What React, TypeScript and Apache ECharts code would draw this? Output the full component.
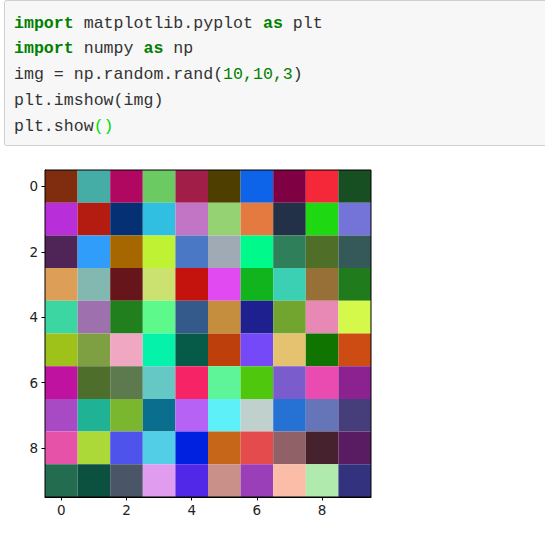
import React, { useEffect, useRef } from "react";
import * as echarts from "echarts";

// Rows of the 10x10x3 random image (row 0 at top), as hex colours
const row0 = ["#7f2d0e", "#45ada6", "#b00860", "#6cca62", "#a01e48", "#4e3e00", "#0e64e8", "#7f0043", "#f42838", "#174f22"];
const row1 = ["#b82ed8", "#b41c12", "#063074", "#30bfe0", "#c275c4", "#95d274", "#e47a40", "#223048", "#1ed812", "#7474d8"];
const row2 = ["#4f2558", "#319dfa", "#a66700", "#bff232", "#4b78c4", "#a0aab4", "#00f98b", "#2e7f5a", "#4f6f28", "#355858"];
const row3 = ["#dd9f58", "#83b8b0", "#66161a", "#cbe270", "#c4120c", "#e14af0", "#12b41e", "#3bcfb4", "#977038", "#1f7b1c"];
const row4 = ["#3bd6a2", "#9e70ad", "#227f1e", "#5ef98b", "#345a8c", "#c48e3e", "#1e2090", "#72a430", "#e888b4", "#d4f94a"];
const row5 = ["#9fc21a", "#7ea042", "#f0a8c2", "#04f2aa", "#055a48", "#bd400c", "#7548f8", "#e4c270", "#107400", "#cc4c14"];
const row6 = ["#bf12a0", "#4e6e2c", "#5d7a4e", "#66c8c4", "#f62466", "#5ef598", "#4ec70c", "#7b5ccc", "#ea4bb0", "#8c2190"];
const row7 = ["#a74ac4", "#20b295", "#7bb72e", "#0a6e8e", "#b562f5", "#5ef0f8", "#c0d0cc", "#2672d4", "#6674b8", "#463e7a"];
const row8 = ["#e552a8", "#acd838", "#4e53ec", "#52cfe6", "#0022e0", "#c56619", "#e44b4d", "#906268", "#46212e", "#591c62"];
const row9 = ["#246c50", "#0c5040", "#4a5668", "#e09df0", "#5228e8", "#c89088", "#9a3fb8", "#fbbca8", "#b0eaac", "#32327e"];
const rows = [row0, row1, row2, row3, row4, row5, row6, row7, row8, row9];

const xCategories = ["0", "1", "2", "3", "4", "5", "6", "7", "8", "9"];
const yCategories = ["0", "1", "2", "3", "4", "5", "6", "7", "8", "9"];

const codeLines = [
  "{kw|import} matplotlib.pyplot {kw|as} plt",
  "{kw|import} numpy {kw|as} np",
  "img = np.random.rand({num|10,10,3})",
  "plt.imshow(img)",
  "plt.show{br|()}",
];

export default function App() {
  const ref = useRef<HTMLDivElement>(null);
  useEffect(() => {
    if (!ref.current) return;
    const chart = echarts.init(ref.current, undefined, { renderer: "svg" });
    const data: any[] = [];
    rows.forEach((row, y) => {
      row.forEach((c, x) => {
        data.push({ value: [x, y], color: c });
      });
    });
    const mono = "'Liberation Mono', 'DejaVu Sans Mono', monospace";
    const graphics: any[] = [
      {
        type: "rect",
        shape: { x: 4.5, y: 0.5, width: 560, height: 145, r: 2 },
        style: { fill: "#f7f7f7", stroke: "#cfcfcf", lineWidth: 1 },
        z: 0,
      },
    ];
    codeLines.forEach((line, i) => {
      graphics.push({
        type: "text",
        x: 14,
        y: 23 + i * 25.8,
        z: 1,
        style: {
          text: line,
          font: `16.6px ${mono}`,
          fontFamily: mono,
          fontSize: 16.6,
          fill: "#333333",
          verticalAlign: "middle",
          rich: {
            kw: { fontFamily: mono, fontSize: 16.6, fontWeight: "bold", fill: "#008000", color: "#008000" },
            num: { fontFamily: mono, fontSize: 16.6, fill: "#008000", color: "#008000" },
            br: { fontFamily: mono, fontSize: 16.6, fill: "#00dd00", color: "#00dd00" },
          },
        },
      });
    });
    chart.setOption({
      animation: false,
      backgroundColor: "#ffffff",
      graphic: graphics,
      grid: {
        left: 45,
        top: 170,
        width: 326,
        height: 327,
        show: true,
        borderColor: "#000000",
        borderWidth: 1,
        backgroundColor: "transparent",
        z: 10,
      },
      xAxis: {
        type: "category",
        data: xCategories,
        boundaryGap: true,
        axisLine: { show: true, lineStyle: { color: "#000", width: 1 } },
        axisTick: { show: true, alignWithLabel: true, interval: 1, length: 3.5, lineStyle: { color: "#000" } },
        axisLabel: { interval: 1, margin: 6, color: "#222", fontFamily: "DejaVu Sans", fontSize: 13.5 },
        splitLine: { show: false },
      },
      yAxis: {
        type: "category",
        data: yCategories,
        inverse: true,
        boundaryGap: true,
        axisLine: { show: true, lineStyle: { color: "#000", width: 1 } },
        axisTick: { show: true, alignWithLabel: true, interval: 1, length: 3.5, lineStyle: { color: "#000" } },
        axisLabel: { interval: 1, margin: 7, color: "#222", fontFamily: "DejaVu Sans", fontSize: 13.5 },
        splitLine: { show: false },
      },
      series: [
        {
          type: "custom",
          data: data,
          encode: { x: 0, y: 1 },
          renderItem: (params: any, api: any) => {
            const x = api.value(0);
            const y = api.value(1);
            const c = api.coord([x, y]);
            const s = api.size([1, 1]);
            const item = data[params.dataIndex];
            return {
              type: "rect",
              shape: { x: c[0] - s[0] / 2, y: c[1] - s[1] / 2, width: s[0], height: s[1] },
              style: { fill: item.color, stroke: null },
            };
          },
        },
      ],
    });
    return () => chart.dispose();
  }, []);
  return (
    <div
      ref={ref}
      style={{ position: "fixed", left: 0, top: 0, width: 545, height: 548 }}
    />
  );
}
